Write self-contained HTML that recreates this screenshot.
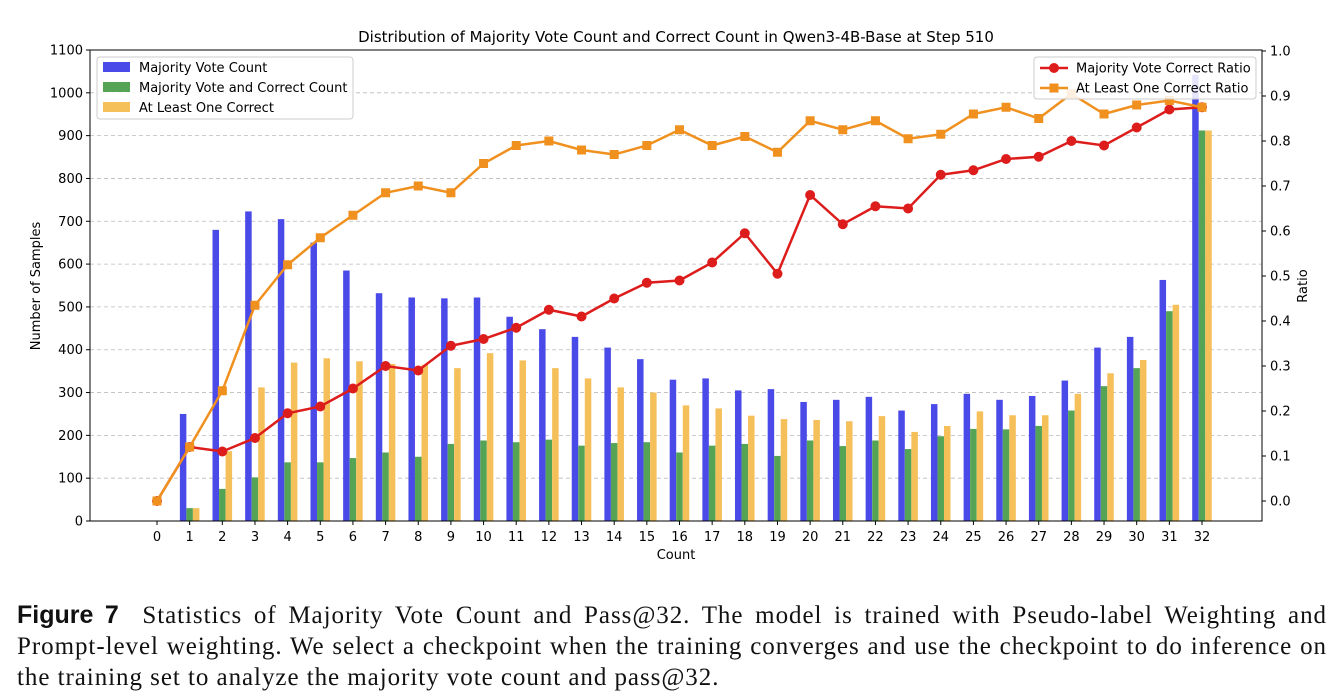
<!DOCTYPE html>
<html><head><meta charset="utf-8"><style>
body{margin:0;background:#fff;width:1340px;height:700px;overflow:hidden;}
svg text{font-family:"DejaVu Sans","Liberation Sans",sans-serif;}
.cap{position:absolute;left:17px;top:600px;width:1310px;font-family:"Liberation Serif",serif;font-size:25px;letter-spacing:0.95px;line-height:31px;color:#111;}
.cap div{white-space:nowrap;}
.cap .j{text-align:justify;text-align-last:justify;}
.cap b{font-family:"Liberation Sans",sans-serif;font-weight:bold;letter-spacing:0;}
</style></head><body>
<svg id="chart" width="1340" height="590" style="position:absolute;left:0;top:0"></svg>
<div class="cap">
<div class="j"><b>Figure 7</b>&nbsp; Statistics of Majority Vote Count and Pass@32. The model is trained with Pseudo-label Weighting and</div>
<div class="j">Prompt-level weighting. We select a checkpoint when the training converges and use the checkpoint to do inference on</div>
<div>the training set to analyze the majority vote count and pass@32.</div>
</div>
<script>
const categories=[0,1,2,3,4,5,6,7,8,9,10,11,12,13,14,15,16,17,18,19,20,21,22,23,24,25,26,27,28,29,30,31,32];
const majorityCount=[0,250,680,723,705,650,585,532,522,520,522,477,448,430,405,378,330,333,305,308,278,283,290,258,273,297,283,292,328,405,430,563,1042];
const majorityCorrect=[0,30,75,102,137,137,147,160,150,180,188,184,190,176,182,184,160,176,180,152,188,175,188,168,198,215,214,222,258,315,357,490,912];
const atLeastOne=[0,30,163,312,370,380,373,367,365,357,392,375,357,333,312,300,270,263,246,238,236,233,245,208,222,256,247,247,297,345,376,505,912];
const mvRatio=[0,0.12,0.11,0.14,0.195,0.21,0.25,0.30,0.29,0.345,0.36,0.385,0.425,0.41,0.45,0.485,0.49,0.53,0.595,0.505,0.68,0.615,0.655,0.65,0.725,0.735,0.76,0.765,0.80,0.79,0.83,0.87,0.875];
const aloRatio=[0,0.12,0.245,0.435,0.525,0.585,0.635,0.685,0.70,0.685,0.75,0.79,0.80,0.78,0.77,0.79,0.825,0.79,0.81,0.775,0.845,0.825,0.845,0.805,0.815,0.86,0.875,0.85,0.905,0.86,0.88,0.89,0.875];
const leftTicks=[0,100,200,300,400,500,600,700,800,900,1000,1100];
const rightTicks=[0,0.1,0.2,0.3,0.4,0.5,0.6,0.7,0.8,0.9,1.0];

const svg=document.getElementById('chart');
const NS='http://www.w3.org/2000/svg';
const L=90,R=1262,T=50,B=521;
const x=c=>157+c*(1045/32);
const yL=v=>B-v*(B-T)/1100;
const yR=v=>501-v*450;
const bw=6.5;
function mk(tag,attrs,parent){const e=document.createElementNS(NS,tag);for(const k in attrs)e.setAttribute(k,attrs[k]);(parent||svg).appendChild(e);return e;}
function txt(s,attrs){const e=mk('text',attrs);e.textContent=s;return e;}

leftTicks.forEach(v=>{
  const g=mk('line',{x1:L,x2:R,y1:yL(v),y2:yL(v),stroke:'#bbb','stroke-dasharray':'4,3','stroke-width':0.8});
  
  
  mk('line',{x1:L-4,x2:L,y1:yL(v),y2:yL(v),stroke:'#000'});
  const t=txt(String(v),{x:L-7,y:yL(v)+4.5,'text-anchor':'end','font-size':13});
  
  
});
rightTicks.forEach(v=>{
  mk('line',{x1:R,x2:R+4,y1:yR(v),y2:yR(v),stroke:'#000'});
  const t=txt(v.toFixed(1),{x:R+8,y:yR(v)+4.5,'font-size':13});
  
  
});
const series=[[majorityCount,'#4a4ae8',-0.3],[majorityCorrect,'#55a455',-0.1],[atLeastOne,'#f5c05a',0.1]];
series.forEach(([arr,col,off],si)=>{
  arr.forEach((v,i)=>{
    const cx=x(categories[i])+off*(1045/32);
    const r=mk('rect',{x:cx,y:yL(v),width:bw,height:B-yL(v),fill:col});
    
    
  });
});
categories.forEach(c=>{
  mk('line',{x1:x(c),x2:x(c),y1:B,y2:B+4,stroke:'#000'});
  const t=txt(String(c),{x:x(c),y:B+20,'text-anchor':'middle','font-size':13});
  
  
});
function line(arr,col,name,marker){
  const pts=arr.map((v,i)=>x(categories[i])+','+yR(v)).join(' ');
  const p=mk('polyline',{points:pts,fill:'none',stroke:col,'stroke-width':2.5});
  
  
  arr.forEach((v,i)=>{
    let m;
    if(marker==='c') m=mk('circle',{cx:x(categories[i]),cy:yR(v),r:5,fill:col});
    else m=mk('rect',{x:x(categories[i])-4.5,y:yR(v)-4.5,width:9,height:9,fill:col});
    
    
  });
}
line(mvRatio,'#dd1c1c','majority-vote-correct-ratio-line','c');
line(aloRatio,'#f0901e','at-least-one-correct-ratio-line','s');
const fr=mk('rect',{x:L,y:T,width:R-L,height:B-T,fill:'none',stroke:'#000','stroke-width':1});

const ti=txt('Distribution of Majority Vote Count and Correct Count in Qwen3-4B-Base at Step 510',{x:676,y:42,'text-anchor':'middle','font-size':15});

const xt=txt('Count',{x:676,y:559,'text-anchor':'middle','font-size':13});

const yt=txt('Number of Samples',{x:0,y:0,'text-anchor':'middle','font-size':13,transform:'translate(40,286) rotate(-90)'});

const y2=txt('Ratio',{x:0,y:0,'text-anchor':'middle','font-size':13,transform:'translate(1307,286) rotate(-90)'});

const lg1=mk('rect',{x:97,y:57,width:256,height:62,fill:'#fff','fill-opacity':0.85,stroke:'#ccc',rx:3});

[['Majority Vote Count','#4a4ae8'],['Majority Vote and Correct Count','#55a455'],['At Least One Correct','#f5c05a']].forEach(([s,c],i)=>{
  mk('rect',{x:103,y:62+i*20,width:27,height:10,fill:c});
  const t=txt(s,{x:139,y:72+i*20,'font-size':13});
  
});
const lg2=mk('rect',{x:1034,y:57,width:222,height:42,fill:'#fff','fill-opacity':0.85,stroke:'#ccc',rx:3});

[['Majority Vote Correct Ratio','#dd1c1c','c'],['At Least One Correct Ratio','#f0901e','s']].forEach(([s,c,m],i)=>{
  const yy=68+i*20;
  mk('line',{x1:1040,x2:1068,y1:yy,y2:yy,stroke:c,'stroke-width':2.5});
  if(m==='c')mk('circle',{cx:1054,cy:yy,r:5,fill:c});else mk('rect',{x:1049.5,y:yy-4.5,width:9,height:9,fill:c});
  const t=txt(s,{x:1076,y:yy+4.5,'font-size':13});
  
});
</script>
</body></html>
